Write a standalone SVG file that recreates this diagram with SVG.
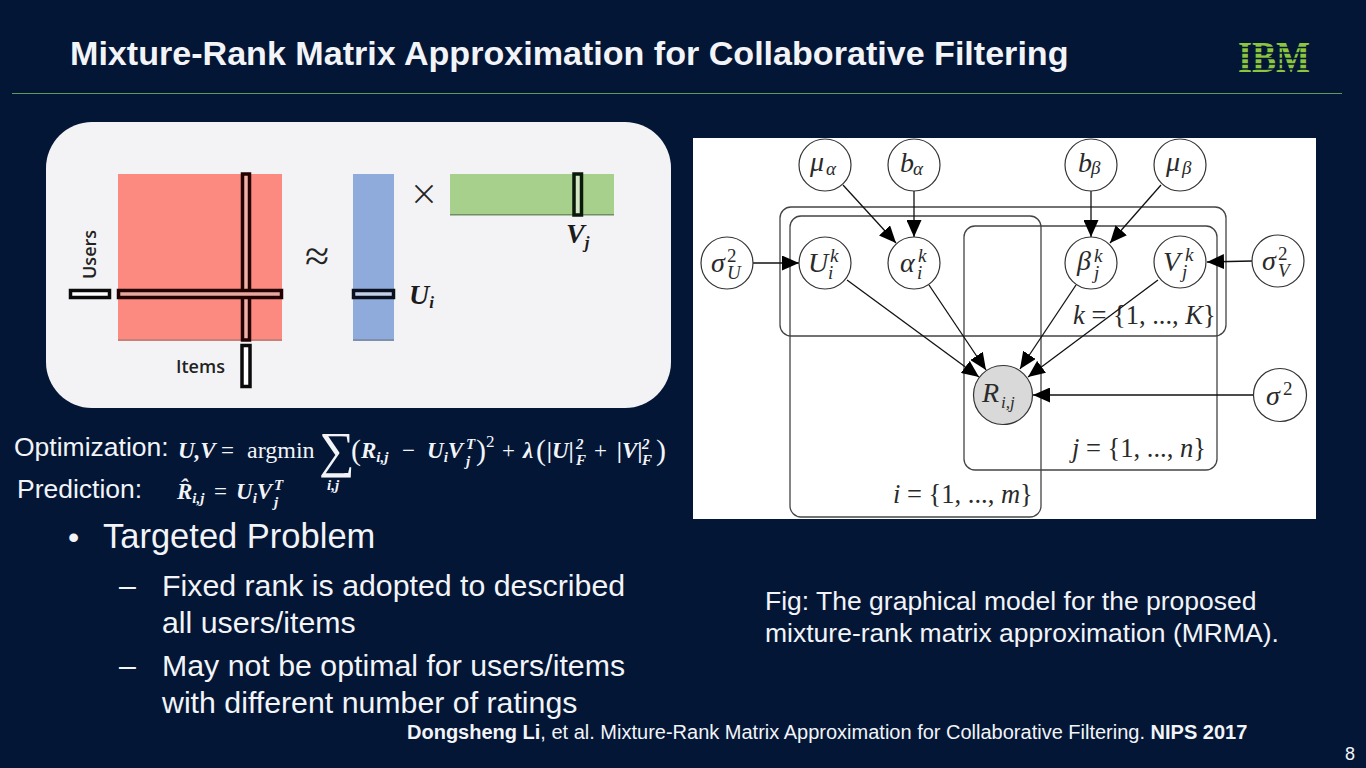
<svg xmlns="http://www.w3.org/2000/svg" width="1366" height="768" viewBox="0 0 1366 768">
<style>
text{font-family:"Liberation Sans",Arial,sans-serif;fill:#f2f4f8}
.m,.mi{font-family:"Liberation Serif","Times New Roman",serif}
.mi{font-style:italic}
.u{font-style:normal}
.f{font-family:"Liberation Serif","Times New Roman",serif;font-style:italic;font-weight:700;fill:#f2f4f8;font-size:23px}
.fs{font-size:15px}
.fr{font-family:"Liberation Serif","Times New Roman",serif;font-size:23px}
.fp{font-size:30px}
.d{font-family:"Liberation Serif","Times New Roman",serif;font-style:italic;font-weight:700;fill:#1b1b1b;font-size:28px}
.n{fill:#fff;stroke:#333;stroke-width:1.2}
.p{fill:none;stroke:#444;stroke-width:1.3}
.e{stroke:#111;stroke-width:1.3;fill:none;marker-end:url(#a)}
.l{fill:#2a2a2a;font-size:28px}
.pl{fill:#2a2a2a;font-size:26.500px}
.s{fill:#2a2a2a;font-size:19px}
.w{fill:#fff;stroke:#0a0a0a;stroke-width:3.500}
.t{font-size:30.300px}
.lb{fill:#222;font-family:"Open Sans",sans-serif;font-size:18px;font-weight:600}
</style>
<defs>
<marker id="a" markerUnits="userSpaceOnUse" markerWidth="18" markerHeight="15" refX="17" refY="7.500" orient="auto"><path d="M0 0L17 7.500L0 15Z" fill="#000"/></marker>
</defs>
<rect width="1366" height="768" fill="#031636"/>
<text x="70" y="65" font-size="34.100" font-weight="700" fill="#fff">Mixture-Rank Matrix Approximation for Collaborative Filtering</text>
<rect x="12" y="93" width="1330" height="1" fill="#5f9a5a"/>
<g id="ibm-logo">
<text x="1238" y="72" font-size="45" font-weight="700" class="m" textLength="72" lengthAdjust="spacingAndGlyphs" style="fill:#8cc63f">IBM</text>
<path d="M1236 47.500H1312M1236 53H1312M1236 58.500H1312M1236 64H1312M1236 69H1312" stroke="#031636" stroke-width="1.500"/>
</g>

<g id="matrix-panel">
<rect x="46" y="122" width="625" height="286" rx="46" fill="#f3f3f6"/>
<rect x="118" y="174" width="164" height="166" fill="#fd8a80"/>
<rect x="118" y="339" width="164" height="2" fill="#c98078"/>
<rect x="242.500" y="174" width="7" height="166" fill="#f0b0a8" stroke="#200" stroke-width="3.500"/>
<rect x="118.500" y="290.500" width="163" height="7" fill="#e8a8a0" stroke="#200" stroke-width="3.500"/>
<rect x="70.500" y="290.500" width="39" height="7" class="w"/>
<rect x="242" y="345.500" width="8" height="41" class="w"/>
<text transform="translate(96 279) rotate(-90)" class="lb">Users</text>
<text x="176" y="373" class="lb">Items</text>
<text x="317" y="271" text-anchor="middle" font-size="44" class="m" style="fill:#222">≈</text>
<rect x="353" y="174" width="41" height="166" fill="#8fabdc"/>
<rect x="353" y="339" width="41" height="2" fill="#7f8fb0"/>
<rect x="353.500" y="290.500" width="40" height="7" fill="#c4d0e8" stroke="#0a1020" stroke-width="3.500"/>
<text class="d" x="409" y="304">U<tspan dy="4" style="font-size:17px">i</tspan></text>
<text x="424" y="209" text-anchor="middle" font-size="42" font-weight="300" style="fill:#222;font-family:'Open Sans',sans-serif">×</text>
<rect x="450" y="174" width="164" height="41" fill="#a8d08d"/>
<rect x="450" y="214" width="164" height="1.500" fill="#6f8f60"/>
<rect x="574" y="174" width="7.500" height="41" fill="#d4e6c4" stroke="#0a1a0a" stroke-width="3.500"/>
<text class="d" x="566" y="243">V<tspan dy="5" style="font-size:17px">j</tspan></text>
</g>

<g id="formula">
<text x="14" y="456" font-size="26.500">Optimization:</text>
<text x="17" y="498" font-size="26.500">Prediction:</text>
<text class="f" x="178" y="458">U,V</text>
<text class="fr" x="221" y="458">=</text>
<text class="fr" x="247" y="458" style="font-size:24px">argmin</text>
<text class="fr" x="319" y="467" style="font-size:50px">∑</text>
<text class="f fs" x="327" y="490">i,j</text>
<text class="fr fp" x="351" y="460">(</text>
<text class="f" x="361" y="458">R<tspan dy="4" style="font-size:15px">i,j</tspan></text>
<text class="fr" x="402" y="458">−</text>
<text class="f" x="427" y="458">U<tspan dy="4" style="font-size:15px">i</tspan><tspan dy="-4">V</tspan></text>
<text class="f fs" x="466" y="449">T</text>
<text class="f fs" x="466" y="466">j</text>
<text class="fr fp" x="476" y="460">)</text>
<text class="fr" x="486" y="447" style="font-size:17px">2</text>
<text class="fr" x="502" y="458">+</text>
<text class="f" x="523" y="458">λ</text>
<text class="fr fp" x="536" y="460">(</text>
<text class="f" x="547" y="458">|U|</text>
<text class="f fs" x="576" y="449">2</text>
<text class="f fs" x="576" y="465">F</text>
<text class="fr" x="594" y="458">+</text>
<text class="f" x="617" y="458">|V|</text>
<text class="f fs" x="642" y="449">2</text>
<text class="f fs" x="642" y="465">F</text>
<text class="fr fp" x="656" y="460">)</text>
<text class="f" x="177" y="499">R̂<tspan dy="4" style="font-size:15px">i,j</tspan></text>
<text class="fr" x="214" y="499">=</text>
<text class="f" x="236" y="499">U<tspan dy="4" style="font-size:15px">i</tspan><tspan dy="-4">V</tspan></text>
<text class="f fs" x="274" y="490">T</text>
<text class="f fs" x="274" y="507">j</text>
</g>

<g id="body-text">
<text x="68" y="548" font-size="32">•</text>
<text x="103" y="548" font-size="34.500">Targeted Problem</text>
<text x="119" y="596" class="t">–</text>
<text x="162" y="596" class="t">Fixed rank is adopted to described</text>
<text x="162" y="633" class="t">all users/items</text>
<text x="119" y="676" class="t">–</text>
<text x="162" y="676" class="t">May not be optimal for users/items</text>
<text x="162" y="713" class="t">with different number of ratings</text>
<text x="407" y="739" font-size="20"><tspan font-weight="700">Dongsheng Li</tspan>, et al. Mixture-Rank Matrix Approximation for Collaborative Filtering. <tspan font-weight="700">NIPS 2017</tspan></text>
<text x="765" y="610" font-size="26.500">Fig: The graphical model for the proposed</text>
<text x="765" y="642" font-size="26.500">mixture-rank matrix approximation (MRMA).</text>
<text x="1345" y="760" font-size="18">8</text>
</g>

<rect id="figure-bg" x="693" y="138" width="623" height="381" fill="#fff"/>
<g id="plates">
<rect class="p" x="780" y="207" width="446" height="129" rx="11"/>
<rect class="p" x="790" y="216" width="251" height="301" rx="11"/>
<rect class="p" x="964" y="226" width="253" height="244" rx="11"/>
<text class="mi pl" x="1073" y="324">k <tspan class="u">= {1, ..., </tspan>K<tspan class="u">}</tspan></text>
<text class="mi pl" x="1072" y="457">j <tspan class="u">= {1, ..., </tspan>n<tspan class="u">}</tspan></text>
<text class="mi pl" x="893" y="503">i <tspan class="u">= {1, ..., </tspan>m<tspan class="u">}</tspan></text>
</g>
<g id="connectors">
<path class="e" d="M843 185L896 243"/>
<path class="e" d="M914 191L914 237"/>
<path class="e" d="M753 263L799 263"/>
<path class="e" d="M1091 191L1091 237"/>
<path class="e" d="M1161 185L1110 243"/>
<path class="e" d="M1252 261L1207 262"/>
<path class="e" d="M847 280L979 377"/>
<path class="e" d="M929 285L986 370"/>
<path class="e" d="M1076 285L1020 369"/>
<path class="e" d="M1158 280L1028 377"/>
<path class="e" d="M1254 395L1033 395"/>
</g>
<g id="node-mu-alpha"><circle class="n" cx="825" cy="165" r="26"/><text class="mi l" x="810" y="171">μ</text><text class="mi s" x="826" y="175">α</text></g>
<g id="node-b-alpha"><circle class="n" cx="914" cy="165" r="26"/><text class="mi l" x="900" y="172">b</text><text class="mi s" x="913" y="175">α</text></g>
<g id="node-b-beta"><circle class="n" cx="1091" cy="165" r="26"/><text class="mi l" x="1078" y="172">b</text><text class="mi s" x="1091" y="174">β</text></g>
<g id="node-mu-beta"><circle class="n" cx="1180" cy="165" r="26"/><text class="mi l" x="1166" y="171">μ</text><text class="mi s" x="1182" y="174">β</text></g>
<g id="node-sigma-u"><circle class="n" cx="727" cy="263" r="26"/><text class="mi l" x="711" y="272">σ</text><text class="m s" x="727" y="262">2</text><text class="mi s" x="727" y="279">U</text></g>
<g id="node-u"><circle class="n" cx="825" cy="263" r="26"/><text class="mi l" x="808" y="272">U</text><text class="mi s" x="830" y="262">k</text><text class="mi s" x="828" y="279">i</text></g>
<g id="node-alpha"><circle class="n" cx="914" cy="263" r="26"/><text class="mi l" x="900" y="272">α</text><text class="mi s" x="918" y="262">k</text><text class="mi s" x="917" y="279">i</text></g>
<g id="node-beta"><circle class="n" cx="1091" cy="263" r="26"/><text class="mi l" x="1077" y="270">β</text><text class="mi s" x="1094" y="262">k</text><text class="mi s" x="1094" y="279">j</text></g>
<g id="node-v"><circle class="n" cx="1180" cy="262" r="26"/><text class="mi l" x="1163" y="271">V</text><text class="mi s" x="1185" y="261">k</text><text class="mi s" x="1182" y="278">j</text></g>
<g id="node-sigma-v"><circle class="n" cx="1278" cy="261" r="26"/><text class="mi l" x="1262" y="270">σ</text><text class="m s" x="1278" y="260">2</text><text class="mi s" x="1278" y="277">V</text></g>
<g id="node-r"><circle cx="1003" cy="395" r="29.500" fill="#d9d9d9" stroke="#333" stroke-width="1.200"/><text class="mi l" x="982" y="402">R</text><text class="mi s" x="1001" y="408" style="font-size:17px">i,j</text></g>
<g id="node-sigma"><circle class="n" cx="1280" cy="395" r="26.500"/><text class="mi l" x="1266" y="405">σ</text><text class="m s" x="1283" y="395">2</text></g>
</svg>
